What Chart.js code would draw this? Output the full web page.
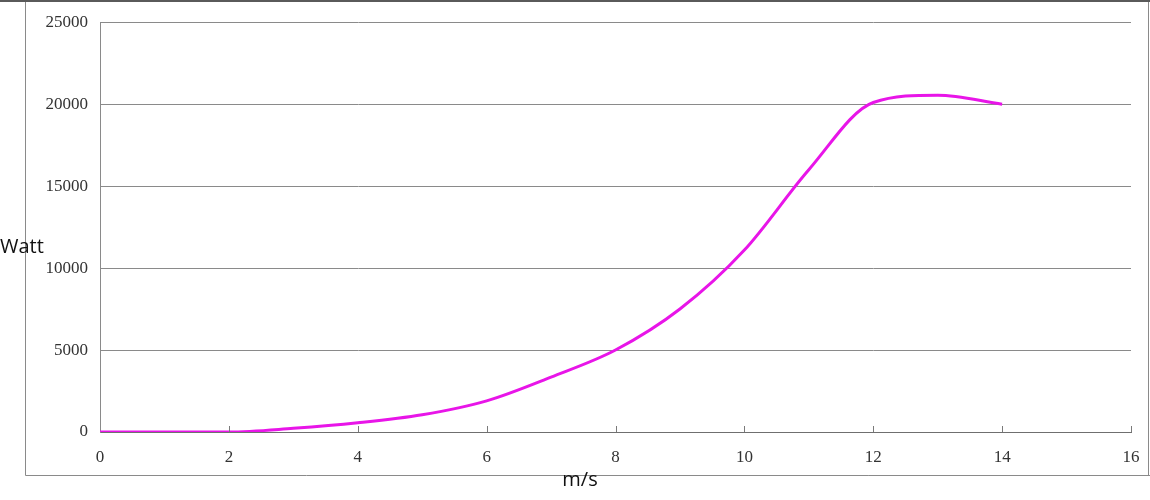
<!DOCTYPE html>
<html>
<head>
<meta charset="utf-8">
<script src="https://cdn.jsdelivr.net/npm/chart.js@4/dist/chart.umd.min.js"></script>
<style>
  html, body { margin: 0; padding: 0; background: #ffffff; }
  #wrap { position: relative; width: 1150px; height: 500px; }
</style>
</head>
<body>
<div id="wrap"><canvas id="c" width="1150" height="500"></canvas></div>
<script>
// ---- data ----
const windSpeeds = [0, 1, 2, 3, 4, 5, 6, 7, 8, 9, 10, 11, 12, 13, 14];
const powerWatt  = [0, 0, 0, 225, 560, 1050, 1900, 3350, 5000, 7500, 11100, 16000, 20100, 20550, 20000];
const xTicks = [0, 2, 4, 6, 8, 10, 12, 14, 16];
const yTicks = [0, 5000, 10000, 15000, 20000, 25000];
const xTitle = 'm/s';
const yTitle = 'Watt';

const points = windSpeeds.map((v, i) => ({ x: v, y: powerWatt[i] }));

const decor = {
  id: 'decor',
  beforeDraw(chart) {
    const ctx = chart.ctx;
    ctx.save();
    ctx.fillStyle = '#ffffff';
    ctx.fillRect(0, 0, chart.width, chart.height);
    ctx.restore();
  },
  afterDraw(chart) {
    const ctx = chart.ctx;
    const xs = chart.scales.x;
    const area = chart.chartArea;
    ctx.save();
    // outer frame
    ctx.strokeStyle = '#5a5a5a';
    ctx.lineWidth = 2;
    ctx.beginPath();
    ctx.moveTo(0, 1); ctx.lineTo(1150, 1);
    ctx.stroke();
    ctx.strokeStyle = '#8a8a8a';
    ctx.lineWidth = 1;
    ctx.beginPath();
    ctx.moveTo(25.5, 2); ctx.lineTo(25.5, 475.5);
    ctx.lineTo(1150, 475.5);
    ctx.moveTo(1148.5, 2); ctx.lineTo(1148.5, 475.5);
    ctx.stroke();
    // inward x ticks
    ctx.strokeStyle = '#7a7a7a';
    ctx.lineWidth = 1;
    ctx.beginPath();
    xTicks.forEach(t => {
      if (t === 0) return;
      const px = Math.round(xs.getPixelForValue(t)) + 0.5;
      ctx.moveTo(px, area.bottom);
      ctx.lineTo(px, area.bottom - 6);
    });
    ctx.stroke();
    // titles
    ctx.fillStyle = '#111111';
    ctx.font = '20px "Open Sans", "Noto Sans", sans-serif';
    ctx.textBaseline = 'alphabetic';
    ctx.textAlign = 'left';
    ctx.fillText(yTitle, 0, 253);
    ctx.textAlign = 'center';
    ctx.fillText(xTitle, 580, 486);
    ctx.restore();
  }
};

new Chart(document.getElementById('c'), {
  type: 'line',
  data: {
    datasets: [{
      data: points,
      borderColor: '#e815e8',
      borderWidth: 3,
      pointRadius: 0,
      pointHoverRadius: 0,
      cubicInterpolationMode: 'monotone',
      fill: false
    }]
  },
  options: {
    responsive: false,
    animation: false,
    events: [],
    layout: { padding: { top: 22, right: 19, left: 0, bottom: 0 } },
    plugins: {
      legend: { display: false },
      tooltip: { enabled: false },
      title: { display: false }
    },
    scales: {
      x: {
        type: 'linear',
        min: 0,
        max: 16,
        afterBuildTicks(scale) { scale.ticks = xTicks.map(v => ({ value: v })); },
        afterFit(scale) { scale.height = 68; },
        grid: { display: false },
        border: { display: true, color: '#6f6f6f', width: 1 },
        ticks: {
          padding: 7,
          color: '#333333',
          font: { family: '"Liberation Serif", "DejaVu Serif", serif', size: 17 },
          maxRotation: 0,
          autoSkip: false
        }
      },
      y: {
        type: 'linear',
        min: 0,
        max: 25000,
        afterBuildTicks(scale) { scale.ticks = yTicks.map(v => ({ value: v })); },
        afterFit(scale) { scale.width = 100; },
        grid: { color: '#8a8a8a', lineWidth: 1, drawTicks: false },
        border: { display: true, color: '#8a8a8a', width: 1 },
        ticks: {
          padding: 12,
          color: '#333333',
          font: { family: '"Liberation Serif", "DejaVu Serif", serif', size: 17 },
          callback: v => String(v)
        }
      }
    }
  },
  plugins: [decor]
});
</script>
</body>
</html>
